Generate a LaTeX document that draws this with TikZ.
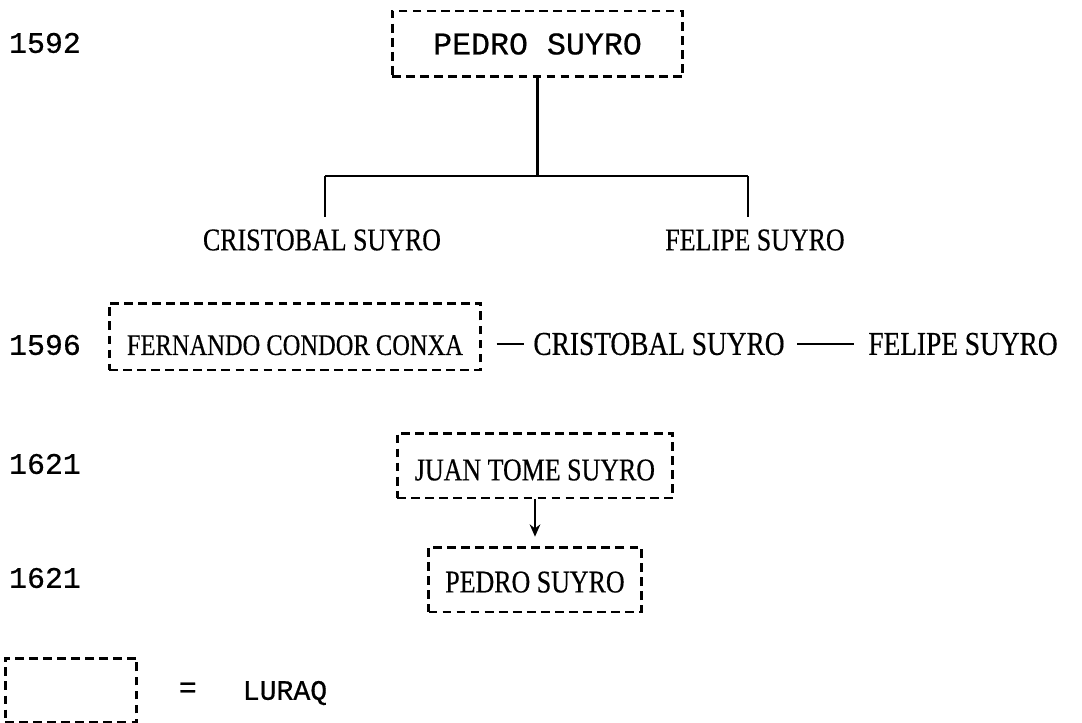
\documentclass[tikz,border=0pt]{standalone}
\usepackage{fontspec}
\setmainfont{Liberation Serif}[FakeStretch=0.82,FakeBold=0.4]
\newfontfamily\typewriter{Liberation Mono}[FakeBold=0.6]
\usetikzlibrary{arrows.meta,calc,positioning}

\begin{document}
\begin{tikzpicture}[x=0.02cm,y=-0.02cm,
    luraq/.style={draw,dashed,line width=1.7pt,dash pattern=on 5pt off 3pt,inner sep=0pt},
    persona/.style={inner sep=0pt,font=\fontsize{18}{20}\selectfont},
    anio/.style={inner sep=0pt,font=\typewriter\fontsize{17}{20}\selectfont},
    linea/.style={line width=1.3pt}]
                    \useasboundingbox (0,0) rectangle (1082,723);
                    \foreach \u \v \z in {43/1592/y1,345/1596/y2,464/1621/y3,578/1621/y4}
                    \node[anio] (\z) at (45,\u){\v};
                    \node[luraq,minimum width=5.82cm,minimum height=1.32cm,font=\typewriter\fontsize{18}{20}\selectfont] (A) at (537.5,44){PEDRO SUYRO};
                    \node[persona] (c1) at (322,240){CRISTOBAL SUYRO};
                    \node[persona] (f1) at (755,240){FELIPE SUYRO};
                    \coordinate (barL) at (325,176);
                    \coordinate (barR) at (748,176);
                    \draw[linea](A.south)--(A.south |- barL);
                    \draw[linea](barL)--(barR);
                    \draw[linea,shorten >=7pt](barL)--(barL |- c1.north);
                    \draw[linea,shorten >=7pt](barR)--(barR |- f1.north);
                    \node[luraq,persona,font=\fontsize{17}{20}\selectfont,minimum width=7.44cm,minimum height=1.34cm,text height=21pt,text depth=0pt] (B) at (295,336.5){FERNANDO CONDOR CONXA};
                    \node[persona,font=\fontsize{19}{20}\selectfont] (c2) at (659,344){CRISTOBAL SUYRO};
                    \node[persona,font=\fontsize{19}{20}\selectfont] (f2) at (963,344){FELIPE SUYRO};
                    \draw[linea,shorten <=8pt,shorten >=5pt](c2.west -| B.east)--(c2.west);
                    \draw[linea,shorten <=7pt,shorten >=8pt](c2.east)--(f2.west);
                    \node[luraq,persona,minimum width=5.52cm,minimum height=1.3cm,text height=16.9pt,text depth=0pt] (C) at (535,465.5){JUAN TOME SUYRO};
                    \node[luraq,persona,minimum width=4.26cm,minimum height=1.3cm,text height=14.7pt,text depth=0pt] (D) at (535,579.5){PEDRO SUYRO};
                    \draw[linea,-{Stealth[length=7pt,width=6pt]},shorten >=5pt](C.south)--(D.north);
                    \node[luraq,minimum width=2.64cm,minimum height=1.28cm] (L) at (71,690){};
                    \node[anio,right=0.8cm of L] (eq){=};
                    \node[anio,font=\typewriter\fontsize{16}{20}\selectfont] (lq) at (285,693){LURAQ};
                \end{tikzpicture}
\end{document}
